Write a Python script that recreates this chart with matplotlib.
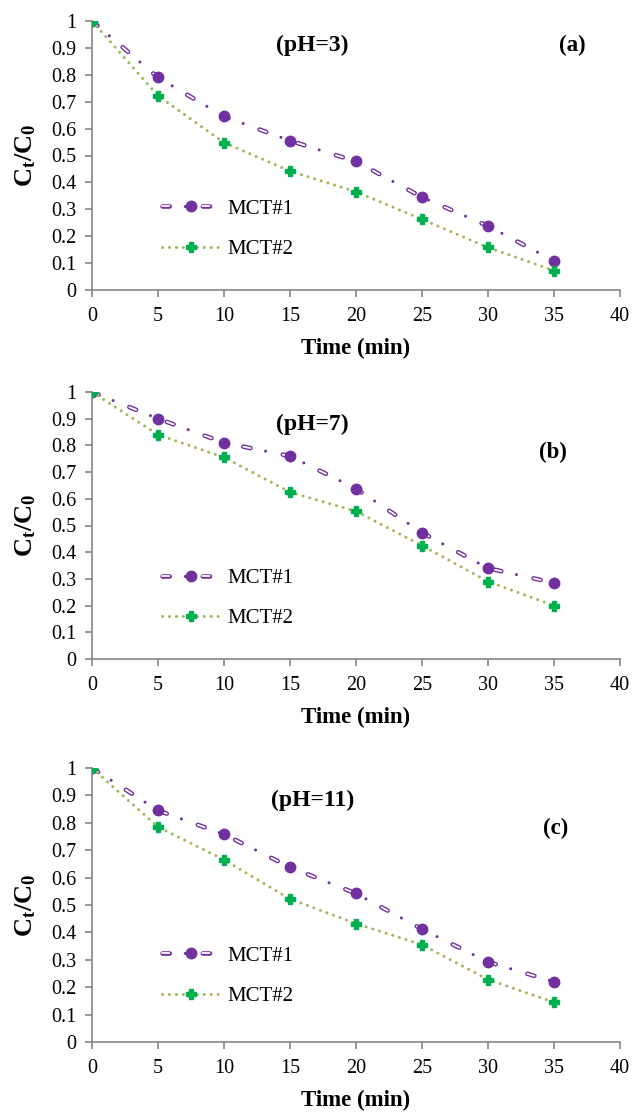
import numpy as np
import matplotlib.pyplot as plt

plt.rcParams['font.family'] = ['Liberation Serif', 'DejaVu Serif']
plt.rcParams['mathtext.fontset'] = 'custom'
plt.rcParams['mathtext.rm'] = 'Liberation Serif'
plt.rcParams['mathtext.bf'] = 'Liberation Serif:bold'
plt.rcParams['lines.scale_dashes'] = False

# data
time = [0, 5, 10, 15, 20, 25, 30, 35]
ph_labels = ['(pH=3)', '(pH=7)', '(pH=11)']
panel_labels = ['(a)', '(b)', '(c)']
mct1 = [
    [1, 0.79, 0.645, 0.555, 0.478, 0.345, 0.238, 0.108],
    [1, 0.90, 0.81, 0.76, 0.638, 0.473, 0.34, 0.285],
    [1, 0.845, 0.758, 0.638, 0.542, 0.412, 0.292, 0.22],
]
mct2 = [
    [1, 0.722, 0.548, 0.442, 0.365, 0.263, 0.158, 0.072],
    [1, 0.84, 0.755, 0.625, 0.553, 0.425, 0.29, 0.20],
    [1, 0.785, 0.665, 0.522, 0.432, 0.355, 0.228, 0.145],
]

purple = '#7030A0'
olive = '#9BBB59'
green = '#00B050'
grey = '#868686'

W, H = 632, 1113
fig = plt.figure(figsize=(W / 100, H / 100), dpi=100)

# axes boxes in pixels: (y of value 1, y of value 0)
boxes = [(21, 290), (392, 659), (768, 1042)]
ph_pos = [(16.7, 0.91), (16.7, 0.88), (16.7, 0.883)]
lab_pos = [(36.4, 0.91), (34.9, 0.775), (35.1, 0.78)]
leg_y = [0.227, 0.227, 0.241]

P = 29.0  # dash-dot period (pt)

for i in range(3):
    top, bot = boxes[i]
    hpx = bot - top
    ax = fig.add_axes([92 / W, 1 - bot / H, 528 / W, hpx / H])
    ax.set_xlim(0, 40)
    ax.set_ylim(0, 1)

    # MCT#1: hollow dashes + small dots, round markers
    l1a, = ax.plot(time, mct1[i], color=purple, lw=3.3, ls=(0, (5.2, P - 5.2)),
                   dash_capstyle='round', zorder=3)
    l1b, = ax.plot(time, mct1[i], color='white', lw=1.3, ls=(0, (5.2, P - 5.2)),
                   dash_capstyle='round', zorder=3.2)
    l1c, = ax.plot(time, mct1[i], color=purple, lw=2.2, ls=(P - 16.4, (0.01, P - 0.01)),
                   dash_capstyle='round', zorder=3.3)
    l1d, = ax.plot(time, mct1[i], ls='none', marker='o', ms=7.5, mfc=purple,
                   mec=purple, zorder=3.5)
    # MCT#2: dotted line with filled plus markers
    l2a, = ax.plot(time, mct2[i], color=olive, lw=2.2, ls=(0, (0.01, 5.0)),
                   dash_capstyle='round', zorder=4)
    l2b, = ax.plot(time, mct2[i], ls='none', marker='P', ms=7.5, mfc=green,
                   mec=green, zorder=5)

    ax.legend([(l1a, l1b, l1c, l1d), (l2a, l2b)], ['MCT#1', 'MCT#2'], frameon=False,
              loc='center left', bbox_to_anchor=(0.1326, leg_y[i]), borderpad=0,
              borderaxespad=0, handlelength=2.8, handletextpad=0.35,
              labelspacing=1.0, fontsize=15)

    ax.text(ph_pos[i][0], ph_pos[i][1], ph_labels[i], fontsize=17,
            fontweight='bold', ha='center', va='center')
    ax.text(lab_pos[i][0], lab_pos[i][1], panel_labels[i], fontsize=16.5,
            fontweight='bold', ha='center', va='center')

    ax.set_xticks(np.arange(0, 41, 5))
    ax.set_yticks(np.arange(0, 1.01, 0.1))
    ax.set_yticklabels(['%g' % round(v, 1) for v in np.arange(0, 1.01, 0.1)])
    ax.tick_params(labelsize=14.5, color=grey, length=5, width=1.2)
    ax.tick_params(axis='x', pad=7)
    ax.tick_params(axis='y', pad=6)
    for s in ['top', 'right']:
        ax.spines[s].set_visible(False)
    for s in ['left', 'bottom']:
        ax.spines[s].set_color(grey)
        ax.spines[s].set_linewidth(1.2)

    ax.set_xlabel('Time (min)', fontsize=16.5, fontweight='bold', va='center')
    ax.xaxis.set_label_coords(0.5, -58 / hpx)
    ax.set_ylabel(r'$\mathbf{C_t/C_0}$', fontsize=19, va='center', ha='center')
    ax.yaxis.set_label_coords(-66 / 528, 0.5)

fig.savefig('out.png', dpi=100)
